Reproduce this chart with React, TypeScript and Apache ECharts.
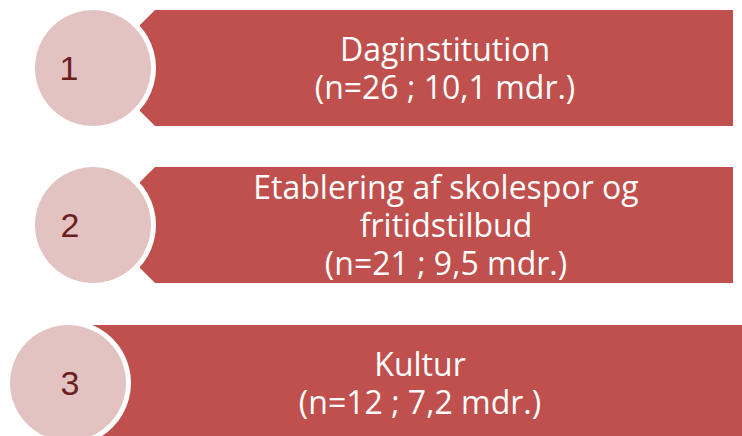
import React, { useEffect, useRef } from "react";
import * as echarts from "echarts";

const ranks = ["1", "2", "3"];
const categories = ["Daginstitution", "Etablering af skolespor og\nfritidstilbud", "Kultur"];
const counts = [26, 21, 12];
const months = [10.1, 9.5, 7.2];

const BANNER = "#c0504d";
const CIRCLE = "#e3c2c2";
const NUMBER = "#6b1f1f";

function fmt(v: number) {
  return v.toFixed(1).replace(".", ",");
}

export default function App() {
  const ref = useRef<HTMLDivElement>(null);
  useEffect(() => {
    if (!ref.current) return;
    const chart = echarts.init(ref.current, null, { renderer: "svg" });
    const layout = [
      { top: 10, bottom: 126, cx: 93, cy: 68, tx: 445, nx: 69, kind: "chamfer", right: 733 },
      { top: 167, bottom: 283, cx: 93, cy: 225, tx: 446, nx: 70, kind: "chamfer", right: 733 },
      { top: 325, bottom: 460, cx: 68, cy: 383, tx: 420, nx: 70, kind: "rect", right: 742 },
    ];
    const elements: any[] = [];
    layout.forEach((L, i) => {
      if (L.kind === "chamfer") {
        elements.push({
          type: "polygon",
          shape: {
            points: [
              [155, L.top],
              [L.right, L.top],
              [L.right, L.bottom],
              [155, L.bottom],
              [140, L.bottom - 15],
              [140, L.top + 15],
            ],
          },
          style: { fill: BANNER },
        });
      } else {
        elements.push({
          type: "rect",
          shape: { x: L.cx, y: L.top, width: L.right - L.cx, height: L.bottom - L.top },
          style: { fill: BANNER },
        });
      }
      elements.push({
        type: "circle",
        shape: { cx: L.cx, cy: L.cy, r: 63 },
        style: { fill: "#ffffff" },
      });
      elements.push({
        type: "circle",
        shape: { cx: L.cx, cy: L.cy, r: 58 },
        style: { fill: CIRCLE },
      });
      elements.push({
        type: "text",
        x: L.nx,
        y: L.cy,
        style: {
          text: ranks[i],
          fill: NUMBER,
          font: "34px 'Liberation Sans', Arial, sans-serif",
          align: "center",
          verticalAlign: "middle",
        },
      });
      const lines = (categories[i] + "\n(n=" + counts[i] + " ; " + fmt(months[i]) + " mdr.)").split("\n");
      lines.forEach((line, k) => {
        elements.push({
          type: "text",
          x: L.tx,
          y: L.cy - 1 + (k - (lines.length - 1) / 2) * 38,
          style: {
            text: line,
            fill: "#ffffff",
            fontFamily: "'Open Sans', sans-serif",
            fontSize: 32,
            lineHeight: 34,
            align: "center",
            verticalAlign: "middle",
          },
        });
      });
    });
    chart.setOption({
      animation: false,
      graphic: { elements },
    });
    return () => chart.dispose();
  }, []);
  return (
    <div
      ref={ref}
      style={{ position: "fixed", left: 0, top: 0, width: 742, height: 436, background: "#fff" }}
    />
  );
}
